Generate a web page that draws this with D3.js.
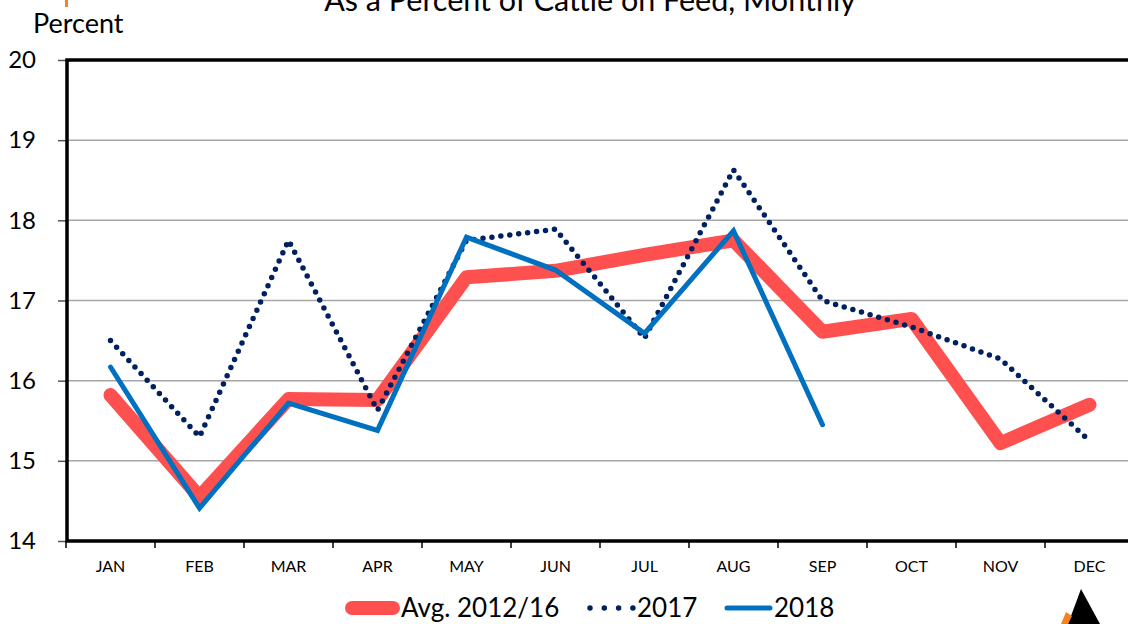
<!DOCTYPE html>
<html>
<head>
<meta charset="utf-8">
<script src="https://cdn.jsdelivr.net/npm/d3@7"></script>
<style>
  body { margin: 0; background: #fff; }
  svg { display: block; font-family: Lato, "Open Sans", sans-serif; }
</style>
</head>
<body>
<div id="chart"></div>
<script>
(function() {
    var months = ["JAN", "FEB", "MAR", "APR", "MAY", "JUN", "JUL", "AUG", "SEP", "OCT", "NOV", "DEC"];
    var avg1216 = [15.82, 14.55, 15.77, 15.76, 17.29, 17.37, 17.57, 17.75, 16.61, 16.77, 15.22, 15.70];
    var y2017 = [16.50, 15.30, 17.75, 15.63, 17.75, 17.89, 16.53, 18.63, 17.00, 16.67, 16.27, 15.25];
    var y2018 = [16.17, 14.41, 15.72, 15.38, 17.79, 17.38, 16.59, 17.87, 15.45];
    var yTicks = [14, 15, 16, 17, 18, 19, 20];

    var width = 1128,
        height = 624;

    var svg = d3.select("#chart")
        .append("svg")
        .attr("width", width)
        .attr("height", height);

    // plot area runs a little past the right edge of the window, as in the original
    var x = d3.scaleBand()
        .domain(months)
        .range([66, 66 + 89 * 12]);

    var y = d3.scaleLinear()
        .domain([14, 20])
        .range([541, 60]);

    // title (cut off at the top)
    svg.append("text")
        .attr("x", 590)
        .attr("y", 11)
        .attr("text-anchor", "middle")
        .attr("font-size", 30.5)
        .attr("fill", "#000")
        .text("As a Percent of Cattle on Feed, Monthly");

    svg.append("rect")
        .attr("x", 65)
        .attr("y", 0)
        .attr("width", 3)
        .attr("height", 7)
        .attr("fill", "#F58220");

    svg.append("text")
        .attr("x", 33)
        .attr("y", 33)
        .attr("font-size", 27)
        .text("Percent");

    // gridlines
    svg.append("g")
        .selectAll("line")
        .data(yTicks.filter(function(d) { return d > 14 && d < 20; }))
        .enter().append("line")
        .attr("x1", 67)
        .attr("x2", width)
        .attr("y1", function(d) { return y(d); })
        .attr("y2", function(d) { return y(d); })
        .attr("stroke", "#a6a6a6")
        .attr("stroke-width", 1.5);

    // y axis
    var yAxis = svg.append("g")
        .attr("transform", "translate(67,0)")
        .call(d3.axisLeft(y).tickValues(yTicks).tickFormat(d3.format("d")).tickSize(9));
    yAxis.select(".domain").remove();
    yAxis.selectAll(".tick line").attr("stroke", "#555").attr("stroke-width", 1.5);
    yAxis.selectAll(".tick text")
        .attr("font-size", 24)
        .attr("font-family", "Lato, sans-serif")
        .attr("fill", "#000")
        .attr("x", -31);

    // x axis
    var xAxis = svg.append("g")
        .attr("transform", "translate(0,541)")
        .call(d3.axisBottom(x).tickSize(0).tickPadding(20));
    xAxis.select(".domain").remove();
    xAxis.selectAll(".tick text")
        .attr("font-size", 16)
        .attr("font-family", "Lato, sans-serif")
        .attr("fill", "#000");

    svg.append("g")
        .selectAll("line")
        .data(d3.range(13))
        .enter().append("line")
        .attr("x1", function(i) { return 66 + 89 * i; })
        .attr("x2", function(i) { return 66 + 89 * i; })
        .attr("y1", 541)
        .attr("y2", 548)
        .attr("stroke", "#000")
        .attr("stroke-width", 1.5);

    // frame: top, left and bottom
    svg.append("path")
        .attr("d", "M" + width + "," + y(20) + "H67V" + y(14) + "H" + width)
        .attr("fill", "none")
        .attr("stroke", "#000")
        .attr("stroke-width", 3.5);

    var line = d3.line()
        .x(function(d, i) { return x(months[i]) + x.bandwidth() / 2; })
        .y(function(d) { return y(d); });

    svg.append("path")
        .datum(avg1216)
        .attr("d", line)
        .attr("fill", "none")
        .attr("stroke", "#FF5050")
        .attr("stroke-width", 14)
        .attr("stroke-linecap", "round")
        .attr("stroke-linejoin", "round");

    svg.append("path")
        .datum(y2017)
        .attr("d", line)
        .attr("fill", "none")
        .attr("stroke", "#002060")
        .attr("stroke-width", 5.5)
        .attr("stroke-linecap", "round")
        .attr("stroke-dasharray", "0 9");

    svg.append("path")
        .datum(y2018)
        .attr("d", line)
        .attr("fill", "none")
        .attr("stroke", "#0070C0")
        .attr("stroke-width", 5)
        .attr("stroke-linecap", "round")
        .attr("stroke-linejoin", "miter");

    // legend
    var legend = svg.append("g").attr("transform", "translate(0,608)");
    legend.append("line")
        .attr("x1", 352).attr("x2", 393).attr("y1", 0).attr("y2", 0)
        .attr("stroke", "#FF5050").attr("stroke-width", 14).attr("stroke-linecap", "round");
    legend.append("text").attr("x", 401).attr("y", 9).attr("font-size", 26).text("Avg. 2012/16");
    legend.append("line")
        .attr("x1", 590).attr("x2", 633).attr("y1", 0).attr("y2", 0)
        .attr("stroke", "#002060").attr("stroke-width", 5.5)
        .attr("stroke-linecap", "round").attr("stroke-dasharray", "0 14.3");
    legend.append("text").attr("x", 637).attr("y", 9).attr("font-size", 26).text("2017");
    legend.append("line")
        .attr("x1", 727).attr("x2", 770).attr("y1", 0).attr("y2", 0)
        .attr("stroke", "#0070C0").attr("stroke-width", 5).attr("stroke-linecap", "round");
    legend.append("text").attr("x", 774).attr("y", 9).attr("font-size", 26).text("2018");

    // logo corner
    var logo = svg.append("g");
    logo.append("polygon").attr("points", "1081,589 1068,624 1100,624").attr("fill", "#000");
    logo.append("polygon").attr("points", "1068,624 1061,624 1066,612 1072,616").attr("fill", "#F58220");
})();
</script>
</body>
</html>
